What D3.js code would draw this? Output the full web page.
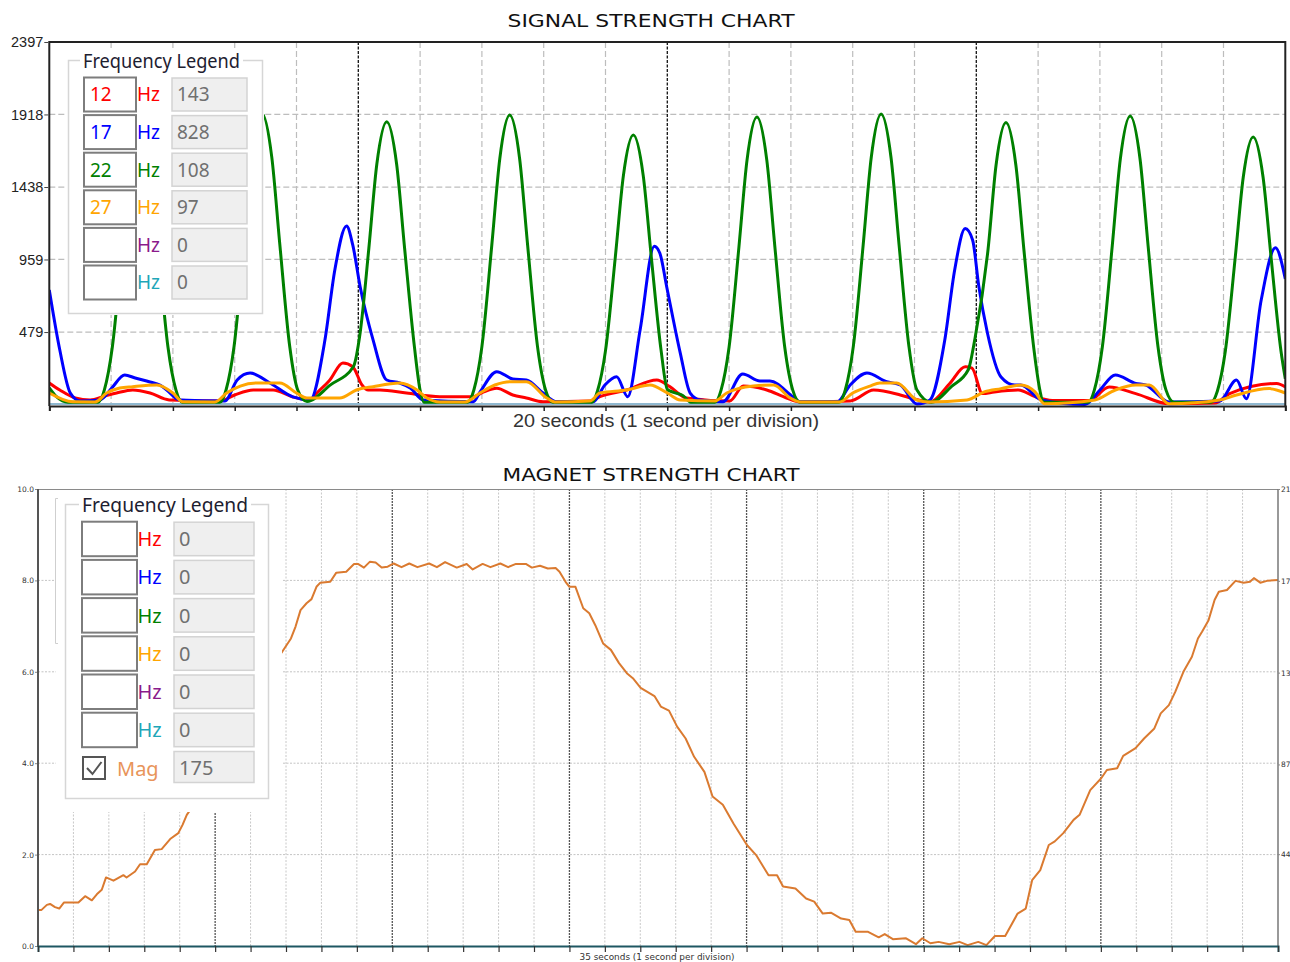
<!DOCTYPE html>
<html><head><meta charset="utf-8">
<script src="https://cdn.jsdelivr.net/npm/d3@7"></script>
<style>body{margin:0;background:#fff;} svg{display:block;}</style>
</head><body>
<svg id="c" width="1290" height="962"></svg>
<script>
// ---------------- DATA ----------------
const signalTitle = "SIGNAL STRENGTH CHART";
const magnetTitle = "MAGNET STRENGTH CHART";
const signalXLabel = "20 seconds (1 second per division)";
const magnetXLabel = "35 seconds (1 second per division)";
const signalSeconds = 20;
const magnetSeconds = 35;
const signalTicks = [0, 479, 959, 1438, 1918, 2397];
const magnetLeftTicks = [0, 2, 4, 6, 8, 10];
const magnetRightTicks = [44, 87, 131, 175, 219];

// [seconds, value]
const red12 = [[0,142],[0.17,96],[0.42,43],[0.66,30],[0.9,56],[1.09,76],[1.35,96],[1.63,76],[1.94,30],[2.76,23],[3.0,63],[3.3,96],[3.62,96],[3.94,50],[4.22,30],[4.33,76],[4.54,162],[4.75,274],[4.91,250],[5.06,129],[5.16,96],[5.35,96],[5.78,76],[6.32,52],[6.86,52],[7.03,83],[7.24,107],[7.5,63],[7.72,43],[7.99,18],[8.75,23],[8.91,52],[9.34,96],[9.83,162],[10.04,118],[10.31,43],[11.01,23],[11.23,122],[11.61,96],[11.93,43],[12.15,17],[12.96,23],[13.34,96],[13.77,63],[13.98,38],[14.25,17],[14.57,139],[14.82,250],[14.93,241],[15.1,72],[15.29,83],[15.68,96],[15.96,50],[16.23,27],[16.83,27],[17.15,116],[17.58,72],[18.12,5],[18.86,10],[19.1,72],[19.86,139],[20,116]];
const blue17 = [[0,757],[0.17,360],[0.34,76],[0.5,23],[0.82,30],[1.01,109],[1.22,195],[1.39,175],[1.63,149],[1.79,129],[1.9,96],[2.11,30],[2.84,23],[3.04,162],[3.25,208],[3.57,142],[3.94,50],[4.22,30],[4.46,426],[4.62,890],[4.81,1180],[4.91,1055],[5.03,779],[5.24,426],[5.46,162],[5.67,142],[5.84,109],[6.05,30],[6.86,18],[6.97,83],[7.24,217],[7.5,169],[7.72,162],[7.99,76],[8.21,18],[8.8,18],[8.99,129],[9.18,184],[9.36,52],[9.56,493],[9.79,1047],[9.88,1000],[9.99,779],[10.21,340],[10.37,76],[10.53,30],[10.9,18],[11.22,202],[11.5,155],[11.66,155],[12.03,52],[12.15,18],[12.75,18],[12.96,129],[13.23,208],[13.55,151],[13.77,129],[14.04,3],[14.25,30],[14.49,426],[14.65,890],[14.82,1163],[14.94,1088],[15.04,783],[15.18,473],[15.4,182],[15.62,129],[15.72,129],[16.05,30],[16.76,0],[17.0,96],[17.25,195],[17.58,139],[17.74,129],[18.12,17],[18.94,23],[19.21,162],[19.37,38],[19.61,691],[19.84,1036],[20,830]];
const green22 = [[0,110],[0.12,50],[0.3,15],[0.79,15],[0.89,95],[1.02,380],[1.18,1045],[1.31,1615],[1.47,1900],[1.63,1615],[1.76,1045],[1.92,380],[2.05,95],[2.15,15],[2.76,15],[2.86,96],[2.99,385],[3.15,1059],[3.28,1636],[3.44,1925],[3.6,1636],[3.73,1059],[3.89,385],[4.02,96],[4.17,20],[4.55,130],[4.92,250],[5.03,475],[5.17,1030],[5.3,1590],[5.46,1870],[5.62,1590],[5.75,1030],[5.91,374],[6.0,94],[6.06,15],[6.77,15],[6.87,96],[7.0,383],[7.16,1053],[7.29,1627],[7.45,1914],[7.61,1627],[7.74,1053],[7.9,383],[8.03,96],[8.15,15],[8.78,15],[8.87,89],[9.0,356],[9.16,980],[9.29,1515],[9.45,1782],[9.61,1515],[9.74,980],[9.9,356],[10.0,100],[10.1,80],[10.25,60],[10.38,15],[10.77,15],[10.87,95],[11.0,380],[11.16,1046],[11.29,1616],[11.45,1901],[11.61,1616],[11.74,1046],[11.9,380],[12.03,95],[12.15,15],[12.78,15],[12.88,96],[13.01,384],[13.17,1057],[13.3,1633],[13.46,1921],[13.62,1633],[13.75,1057],[13.91,384],[14.04,96],[14.27,15],[14.6,120],[14.87,230],[14.98,440],[15.19,1025],[15.32,1584],[15.48,1864],[15.64,1584],[15.77,1025],[15.93,373],[16.03,93],[16.08,15],[16.81,15],[16.91,95],[17.04,382],[17.2,1049],[17.33,1622],[17.49,1908],[17.65,1622],[17.78,1049],[17.94,382],[18.07,95],[18.2,15],[18.8,15],[18.9,88],[19.03,354],[19.19,973],[19.32,1504],[19.48,1769],[19.64,1504],[19.77,973],[19.93,354],[20,170]];
const orange27 = [[0,76],[0.38,18],[0.74,17],[0.93,76],[1.14,109],[1.35,118],[1.74,129],[2.0,76],[2.16,18],[2.68,17],[2.87,76],[3.09,122],[3.36,142],[3.73,142],[4.0,76],[4.17,43],[4.7,43],[4.97,96],[5.24,118],[5.67,142],[5.95,96],[6.11,43],[6.32,17],[6.73,17],[6.97,76],[7.21,129],[7.46,151],[7.72,151],[8.05,43],[8.18,17],[8.75,23],[8.91,76],[9.34,96],[9.72,129],[10.0,76],[10.21,30],[10.77,23],[10.96,76],[11.39,122],[11.72,129],[11.99,43],[12.15,17],[12.79,17],[13.0,76],[13.28,122],[13.44,142],[13.71,142],[14.04,30],[14.22,17],[14.85,30],[15.13,83],[15.4,105],[15.72,129],[15.95,83],[16.1,5],[16.92,30],[17.25,96],[17.58,129],[17.8,129],[18.12,5],[18.94,30],[19.21,63],[19.74,105],[20,76]];

const magnet = [[0,0.79],[0.10,0.79],[0.25,0.9],[0.34,0.92],[0.48,0.85],[0.60,0.82],[0.73,0.95],[1.14,0.95],[1.33,1.09],[1.52,1.0],[1.66,1.13],[1.80,1.23],[1.92,1.5],[2.13,1.43],[2.41,1.55],[2.50,1.5],[2.74,1.63],[2.88,1.79],[3.07,1.79],[3.30,2.1],[3.49,2.12],[3.73,2.34],[3.96,2.47],[4.08,2.65],[4.20,2.87],[4.85,3.6],[5.56,4.5],[6.27,5.5],[6.86,6.4],[7.14,6.73],[7.27,6.99],[7.41,7.35],[7.58,7.5],[7.72,7.59],[7.86,7.86],[7.97,7.95],[8.25,7.97],[8.42,8.17],[8.70,8.19],[8.92,8.36],[9.03,8.36],[9.20,8.28],[9.37,8.41],[9.53,8.39],[9.70,8.28],[9.87,8.3],[10.04,8.37],[10.26,8.29],[10.48,8.37],[10.71,8.29],[11.04,8.37],[11.26,8.29],[11.49,8.4],[11.82,8.28],[12.10,8.36],[12.27,8.24],[12.55,8.36],[12.77,8.29],[13.05,8.37],[13.27,8.29],[13.49,8.36],[13.77,8.36],[13.94,8.28],[14.17,8.32],[14.39,8.26],[14.61,8.27],[14.72,8.19],[14.89,7.97],[15.00,7.86],[15.17,7.86],[15.39,7.39],[15.56,7.28],[15.73,7.02],[15.95,6.62],[16.17,6.48],[16.40,6.19],[16.62,5.97],[16.79,5.86],[17.01,5.65],[17.40,5.47],[17.58,5.24],[17.81,5.15],[18.04,4.8],[18.28,4.54],[18.52,4.14],[18.81,3.81],[19.04,3.27],[19.33,3.09],[19.63,2.68],[20.01,2.21],[20.27,1.99],[20.62,1.55],[20.86,1.55],[21.03,1.3],[21.38,1.26],[21.68,1.04],[21.91,0.97],[22.15,0.71],[22.38,0.73],[22.67,0.6],[22.90,0.57],[23.08,0.31],[23.43,0.31],[23.73,0.19],[23.90,0.26],[24.13,0.15],[24.49,0.17],[24.78,0.04],[24.96,0.17],[25.19,0.06],[25.42,0.09],[25.72,0.04],[26.01,0.09],[26.24,0.02],[26.54,0.09],[26.77,0.02],[27.01,0.22],[27.30,0.22],[27.65,0.71],[27.88,0.82],[28.06,1.44],[28.29,1.66],[28.53,2.21],[28.70,2.29],[28.94,2.47],[29.23,2.76],[29.40,2.87],[29.70,3.41],[30.01,3.67],[30.17,3.85],[30.46,3.89],[30.63,4.16],[30.98,4.33],[31.22,4.54],[31.51,4.76],[31.69,5.09],[31.92,5.27],[32.10,5.56],[32.33,6.0],[32.57,6.33],[32.74,6.73],[32.86,6.88],[33.04,7.13],[33.21,7.57],[33.33,7.75],[33.56,7.79],[33.80,7.99],[34.03,7.95],[34.21,7.97],[34.32,8.05],[34.50,7.95],[34.69,7.99],[35,8.01]];

const legendFreqs = ["12", "17", "22", "27", "", ""];
const legendValues = ["143", "828", "108", "97", "0", "0"];
const magLegendValues = ["0", "0", "0", "0", "0", "0"];
const magLabel = "Mag";
const magValue = "175";
const seriesColors = ["#ff0000", "#0000ff", "#008000", "#ffa500", "#8b1a8b", "#1fa6b8"];
const magColor = "#da7a30";

// ---------------- DRAW ----------------
const svg = d3.select("#c");
const LF = "'Noto Sans', 'Open Sans', sans-serif";

// ===== Top chart =====
const xT = d3.scaleLinear().domain([0, signalSeconds]).range([49.3, 1285.3]);
const yT = d3.scaleLinear().domain([0, 2397]).range([404.5, 42]);

svg.append("text").attr("x", 651).attr("y", 27).attr("text-anchor", "middle")
  .attr("font-family", "'DejaVu Sans', Verdana, sans-serif").attr("font-size", 17)
  .attr("textLength", 287).attr("lengthAdjust", "spacingAndGlyphs").attr("fill", "#111")
  .text(signalTitle);

const gT = svg.append("g");
// grid horizontal
gT.selectAll(".hg").data(signalTicks.filter(d => d > 0 && d < 2397)).join("line")
  .attr("x1", xT(0)).attr("x2", xT(signalSeconds)).attr("y1", d => yT(d)).attr("y2", d => yT(d))
  .attr("stroke", "#bdbdbd").attr("stroke-width", 1.2).attr("stroke-dasharray", "6,3");
// grid vertical
gT.selectAll(".vg").data(d3.range(1, signalSeconds)).join("line")
  .attr("x1", d => xT(d)).attr("x2", d => xT(d)).attr("y1", yT(2397)).attr("y2", yT(0))
  .attr("stroke", d => d % 5 === 0 ? "#111" : "#bdbdbd")
  .attr("stroke-width", d => d % 5 === 0 ? 1.3 : 1.2)
  .attr("stroke-dasharray", d => d % 5 === 0 ? "3,1.5" : "6,3");

// clip
svg.append("defs").append("clipPath").attr("id", "clipT").append("rect")
  .attr("x", xT(0)).attr("y", yT(2397)).attr("width", xT(signalSeconds) - xT(0)).attr("height", yT(0) - yT(2397) + 2);

// zero baseline (empty series)
gT.append("line").attr("x1", xT(0)).attr("x2", xT(signalSeconds)).attr("y1", yT(0) - 0.5).attr("y2", yT(0) - 0.5)
  .attr("stroke", "#8fb8d0").attr("stroke-width", 2);

const lineT = d3.line().x(d => xT(d[0])).y(d => yT(d[1])).curve(d3.curveMonotoneX);
const seriesT = [red12, blue17, green22, orange27];
gT.append("g").attr("clip-path", "url(#clipT)").selectAll("path").data(seriesT).join("path")
  .attr("d", lineT).attr("fill", "none")
  .attr("stroke", (d, i) => seriesColors[i]).attr("stroke-width", 3).attr("stroke-linejoin", "round");

// frame
gT.append("line").attr("x1", xT(0)).attr("x2", xT(signalSeconds)).attr("y1", 42).attr("y2", 42).attr("stroke", "#222").attr("stroke-width", 2);
gT.append("line").attr("x1", xT(0)).attr("x2", xT(0)).attr("y1", 41).attr("y2", 406).attr("stroke", "#222").attr("stroke-width", 2);
gT.append("line").attr("x1", xT(signalSeconds)).attr("x2", xT(signalSeconds)).attr("y1", 41).attr("y2", 406).attr("stroke", "#222").attr("stroke-width", 2);

// axes
const axL = d3.axisLeft(yT).tickValues(signalTicks.slice(1)).tickSize(4).tickPadding(1).tickFormat(d3.format("d"));
const gAL = gT.append("g").attr("transform", `translate(${xT(0) - 1},0)`).call(axL);
gAL.select(".domain").remove();
gAL.selectAll("text").attr("font-family", "'Liberation Sans', Arial, sans-serif").attr("font-size", 14.5).attr("fill", "#222");
gAL.selectAll("line").attr("stroke", "#444");

const axB = d3.axisBottom(xT).tickValues(d3.range(0, signalSeconds + 1)).tickSize(5).tickFormat("");
const gAB = gT.append("g").attr("transform", `translate(0,${yT(0) + 1.5})`).call(axB);
gAB.select(".domain").attr("stroke", "#222").attr("stroke-width", 2);
gAB.selectAll("line").attr("stroke", "#222").attr("stroke-width", 1.5);

svg.append("text").attr("x", 666).attr("y", 427).attr("text-anchor", "middle")
  .attr("font-family", "'Liberation Sans', Arial, sans-serif").attr("font-size", 19)
  .attr("textLength", 306).attr("lengthAdjust", "spacingAndGlyphs").attr("fill", "#333")
  .text(signalXLabel);

// ===== Legend helper =====
function legend(opt) {
  const g = svg.append("g");
  g.append("rect").attr("x", opt.bg[0]).attr("y", opt.bg[1]).attr("width", opt.bg[2]).attr("height", opt.bg[3]).attr("fill", "#fff");
  g.append("rect").attr("x", opt.fr[0]).attr("y", opt.fr[1]).attr("width", opt.fr[2]).attr("height", opt.fr[3])
    .attr("fill", "none").attr("stroke", "#d6d6d6").attr("stroke-width", 1.5);
  g.append("rect").attr("x", opt.title[0] - 3).attr("y", opt.fr[1] - 10).attr("width", opt.title[2] + 6).attr("height", 20).attr("fill", "#fff");
  g.append("text").attr("x", opt.title[0]).attr("y", opt.fr[1] + 7)
    .attr("font-family", LF).attr("font-size", opt.fs).attr("fill", "#1d2030")
    .attr("textLength", opt.title[2]).attr("lengthAdjust", "spacingAndGlyphs").text("Frequency Legend");
  const rows = g.selectAll(".row").data(opt.values).join("g")
    .attr("transform", (d, i) => `translate(0,${opt.y0 + i * opt.step})`);
  rows.append("rect").attr("x", opt.box[0]).attr("y", 0).attr("width", opt.box[1]).attr("height", opt.h)
    .attr("fill", "#fff").attr("stroke", "#7d7d7d").attr("stroke-width", 2);
  rows.append("text").attr("x", opt.box[0] + 6).attr("y", opt.h / 2 + opt.fs * 0.36)
    .attr("font-family", LF).attr("font-size", opt.fs).attr("fill", (d, i) => seriesColors[i])
    .text((d, i) => opt.freqs[i]);
  rows.append("text").attr("x", opt.hz).attr("y", opt.h / 2 + opt.fs * 0.36)
    .attr("font-family", LF).attr("font-size", opt.fs).attr("fill", (d, i) => seriesColors[i]).text("Hz");
  rows.append("rect").attr("x", opt.vb[0]).attr("y", 0.5).attr("width", opt.vb[1]).attr("height", opt.h - 1)
    .attr("fill", "#efefef").attr("stroke", "#d3d3d3").attr("stroke-width", 1.5);
  rows.append("text").attr("x", opt.vb[0] + 5).attr("y", opt.h / 2 + opt.fs * 0.36)
    .attr("font-family", LF).attr("font-size", opt.fs).attr("fill", "#707070").text(d => d);
  return g;
}

legend({ bg: [66, 50, 198, 265], fr: [68.5, 60.5, 194, 253], title: [83, 61, 157], fs: 19,
  values: legendValues, freqs: legendFreqs, y0: 77.5, step: 37.6, h: 34,
  box: [84, 52], hz: 137, vb: [172, 75] });

// ===== Bottom chart =====
const xB = d3.scaleLinear().domain([0, magnetSeconds]).range([38, 1278]);
const yB = d3.scaleLinear().domain([0, 10]).range([946, 489]);
const yBR = d3.scaleLinear().domain([0, 219]).range([946, 489]);

svg.append("text").attr("x", 651).attr("y", 481).attr("text-anchor", "middle")
  .attr("font-family", "'DejaVu Sans', Verdana, sans-serif").attr("font-size", 17)
  .attr("textLength", 297).attr("lengthAdjust", "spacingAndGlyphs").attr("fill", "#111")
  .text(magnetTitle);

const gB = svg.append("g");
gB.selectAll(".hg").data(magnetLeftTicks.filter(d => d > 0 && d < 10)).join("line")
  .attr("x1", xB(0)).attr("x2", xB(magnetSeconds)).attr("y1", d => yB(d)).attr("y2", d => yB(d))
  .attr("stroke", "#c4c4c4").attr("stroke-width", 1).attr("stroke-dasharray", "2,1.5");
gB.selectAll(".vg").data(d3.range(1, magnetSeconds)).join("line")
  .attr("x1", d => xB(d)).attr("x2", d => xB(d)).attr("y1", yB(10)).attr("y2", yB(0))
  .attr("stroke", d => d % 5 === 0 ? "#555" : "#c8c8c8")
  .attr("stroke-width", d => d % 5 === 0 ? 1.3 : 1)
  .attr("stroke-dasharray", d => d % 5 === 0 ? "2,1" : "2,1.5");

const lineB = d3.line().x(d => xB(d[0])).y(d => yB(d[1]));
gB.append("path").datum(magnet).attr("d", lineB).attr("fill", "none")
  .attr("stroke", magColor).attr("stroke-width", 2).attr("stroke-linejoin", "round");

// frame
gB.append("line").attr("x1", xB(0)).attr("x2", xB(magnetSeconds)).attr("y1", 489.5).attr("y2", 489.5).attr("stroke", "#8a8a8a").attr("stroke-width", 1);
gB.append("line").attr("x1", xB(0)).attr("x2", xB(0)).attr("y1", 489).attr("y2", 947).attr("stroke", "#555").attr("stroke-width", 2);
gB.append("line").attr("x1", xB(magnetSeconds)).attr("x2", xB(magnetSeconds)).attr("y1", 489).attr("y2", 947).attr("stroke", "#777").attr("stroke-width", 1.5);

const axBL = d3.axisLeft(yB).tickValues(magnetLeftTicks).tickSize(2).tickPadding(1).tickFormat(d3.format(".1f"));
const gBL = gB.append("g").attr("transform", `translate(${xB(0) - 1},0)`).call(axBL);
gBL.select(".domain").remove();
gBL.selectAll("text").attr("font-family", "'DejaVu Sans', Verdana, sans-serif").attr("font-size", 7.5).attr("fill", "#333");
gBL.selectAll("line").attr("stroke", "#888");

const axBR = d3.axisRight(yBR).tickValues(magnetRightTicks).tickSize(2).tickPadding(1).tickFormat(d3.format("d"));
const gBR = gB.append("g").attr("transform", `translate(${xB(magnetSeconds)},0)`).call(axBR);
gBR.select(".domain").remove();
gBR.selectAll("text").attr("font-family", "'DejaVu Sans', Verdana, sans-serif").attr("font-size", 7.5).attr("fill", "#333");
gBR.selectAll("line").attr("stroke", "#888");

const axBB = d3.axisBottom(xB).tickValues(d3.range(0, magnetSeconds + 1)).tickSize(6).tickFormat("");
const gBB = gB.append("g").attr("transform", `translate(0,${yB(0)})`).call(axBB);
gBB.select(".domain").attr("stroke", "#1e5762").attr("stroke-width", 2);
gBB.selectAll("line").attr("stroke", "#333").attr("stroke-width", 1.2);

svg.append("text").attr("x", 657).attr("y", 960).attr("text-anchor", "middle")
  .attr("font-family", "'DejaVu Sans', Verdana, sans-serif").attr("font-size", 8.5)
  .attr("textLength", 155).attr("lengthAdjust", "spacingAndGlyphs").attr("fill", "#333")
  .text(magnetXLabel);

// bottom legend
const lg = legend({ bg: [56, 490, 226, 322], fr: [65.5, 504.5, 203, 294], title: [82, 504, 166], fs: 20,
  values: magLegendValues, freqs: ["", "", "", "", "", ""], y0: 521.7, step: 38.2, h: 34.5,
  box: [82, 55], hz: 137.5, vb: [174, 80] });
// leftover bracket line
lg.append("path").attr("d", "M58,498.5 H55.5 V643.5 H58").attr("fill", "none").attr("stroke", "#cfcfcf").attr("stroke-width", 1);
// Mag row
lg.append("rect").attr("x", 83).attr("y", 757).attr("width", 22).attr("height", 22)
  .attr("fill", "#fff").attr("stroke", "#555").attr("stroke-width", 2);
lg.append("path").attr("d", "M87,768 L92.5,774 L101.5,762").attr("fill", "none").attr("stroke", "#555").attr("stroke-width", 2);
lg.append("text").attr("x", 117).attr("y", 776).attr("font-family", LF).attr("font-size", 20).attr("fill", "#e8945a").text(magLabel);
lg.append("rect").attr("x", 174).attr("y", 751.5).attr("width", 80).attr("height", 31)
  .attr("fill", "#efefef").attr("stroke", "#d3d3d3").attr("stroke-width", 1.5);
lg.append("text").attr("x", 179).attr("y", 774.5).attr("font-family", LF).attr("font-size", 20).attr("fill", "#707070").text(magValue);
</script>
</body></html>
